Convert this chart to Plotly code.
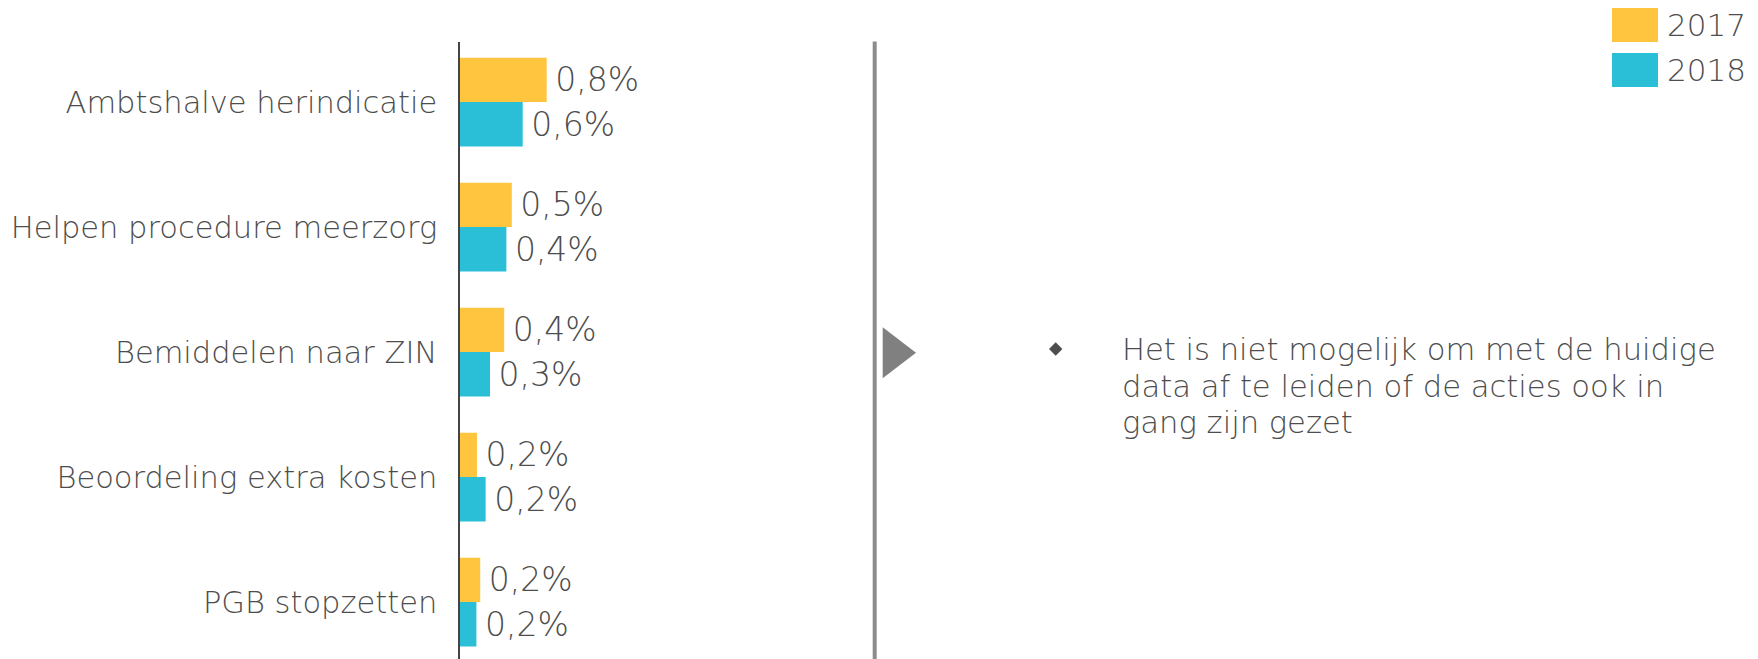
import plotly.graph_objects as go

categories = ["Ambtshalve herindicatie", "Helpen procedure meerzorg", "Bemiddelen naar ZIN",
              "Beoordeling extra kosten", "PGB stopzetten"]
values_2017 = [0.80, 0.48, 0.41, 0.16, 0.19]
values_2018 = [0.58, 0.43, 0.28, 0.24, 0.155]
series_names = ["2017", "2018"]
colors = ["#FFC53F", "#2BBFD7"]
note_lines = ["Het is niet mogelijk om met de huidige",
              "data af te leiden of de acties ook in",
              "gang zijn gezet"]

W, H = 1758, 659
OFF = 8  # page body margin
FONT = "DejaVu Sans"
TXT = "#4D4D4D"


def px(x):
    return (x - OFF) / W


def py(y):
    return 1 - (y - OFF) / H


def fmt(v):
    return "\u2006" + f"{v:.1f}".replace(".", ",") + "%"


fig = go.Figure()
for name, vals, col in zip(series_names, [values_2017, values_2018], colors):
    fig.add_trace(go.Bar(
        y=categories, x=vals, orientation="h", name=name,
        marker=dict(color=col, line=dict(width=0)),
        text=[fmt(v) for v in vals], textposition="outside",
        textfont=dict(family=FONT, size=33, color=TXT, weight=200),
        constraintext="none", cliponaxis=False, showlegend=False,
        hoverinfo="skip",
    ))

ax_x, right_x, top_y = 459.5, 860, 41.5
px_per_pct = 109
cat_step = 125
first_center = 102
plot_h = H - (top_y - OFF)
r_top = -0.5 + (cat_step / 2 - (first_center - top_y)) / cat_step
r_bot = r_top + plot_h / cat_step

fig.update_layout(
    width=W, height=H,
    margin=dict(l=0, r=0, t=0, b=0, autoexpand=False),
    paper_bgcolor="white", plot_bgcolor="white",
    barmode="group", bargap=0.29, bargroupgap=0,
    font=dict(family=FONT, size=30.5, color=TXT, weight=200),
    xaxis=dict(domain=[px(ax_x), px(right_x)], range=[0, (right_x - ax_x) / px_per_pct],
               visible=False, fixedrange=True, automargin=False),
    yaxis=dict(domain=[0, py(top_y)], range=[r_bot, r_top],
               showline=True, linecolor="#444444", linewidth=2.3,
               ticks="", showgrid=False, zeroline=False, automargin=False,
               tickfont=dict(family=FONT, size=30.5, color=TXT, weight=200),
               ticklabelstandoff=14, fixedrange=True),
)

# divider line
fig.add_shape(type="line", xref="paper", yref="paper",
              x0=px(874.7), x1=px(874.7), y0=0, y1=py(top_y),
              line=dict(color="#8C8C8C", width=4))
# arrow triangle
fig.add_shape(type="path", xref="paper", yref="paper",
              path=(f"M {px(882.7)} {py(327.3)} L {px(916)} {py(352.8)} "
                    f"L {px(882.7)} {py(378.3)} Z"),
              fillcolor="#808080", line=dict(width=0))
# bullet diamond
dcx, dcy, dr = 1055.7, 349, 6.7
fig.add_shape(type="path", xref="paper", yref="paper",
              path=(f"M {px(dcx - dr)} {py(dcy)} L {px(dcx)} {py(dcy - dr)} "
                    f"L {px(dcx + dr)} {py(dcy)} L {px(dcx)} {py(dcy + dr)} Z"),
              fillcolor="#4D4D4D", line=dict(width=0))
# note text
line_y = [349, 386, 422]
for t, yy in zip(note_lines, line_y):
    fig.add_annotation(xref="paper", yref="paper", x=px(1120), y=py(yy),
                       xanchor="left", yanchor="middle", showarrow=False, text=t,
                       font=dict(family=FONT, size=30.6, color=TXT, weight=200))

# legend
leg_y = [25, 70]
for name, col, yy in zip(series_names, colors, leg_y):
    fig.add_shape(type="rect", xref="paper", yref="paper",
                  x0=px(1612), x1=px(1658), y0=py(yy - 17), y1=py(yy + 17),
                  fillcolor=col, line=dict(width=0))
    fig.add_annotation(xref="paper", yref="paper", x=px(1665), y=py(yy),
                       xanchor="left", yanchor="middle", showarrow=False, text=name,
                       font=dict(family=FONT, size=31, color=TXT, weight=200))

fig.write_html("out.html")
